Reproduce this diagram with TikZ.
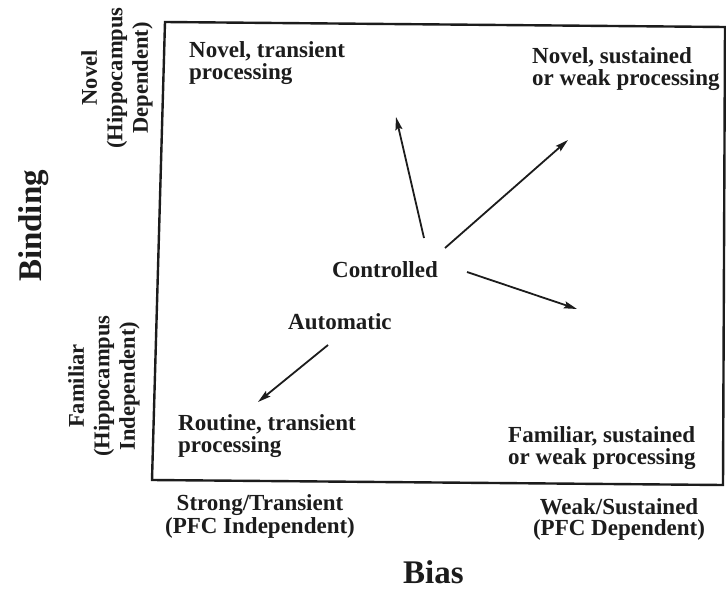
\documentclass[tikz,border=0pt]{standalone}
\usepackage{fontspec}
\setmainfont{Liberation Serif}
\usetikzlibrary{arrows.meta}
\definecolor{ink}{RGB}{28,28,28}
\begin{document}
\begin{tikzpicture}[x=1pt,y=-1pt,
  lbl/.style={inner sep=0pt, text=ink, font=\bfseries\fontsize{23}{22}\selectfont, align=left},
  axl/.style={inner sep=0pt, text=ink, font=\bfseries\fontsize{23}{21}\selectfont, align=center},
  side/.style={inner sep=0pt, text=ink, font=\bfseries\fontsize{22.5}{25.5}\selectfont, align=center, rotate=90},
  big/.style={inner sep=0pt, text=ink, font=\bfseries\fontsize{33}{36}\selectfont},
  arr/.style={draw=ink, line width=1.8pt, -{Stealth[length=13pt,width=7pt,inset=2pt]}},
  frame/.style={draw=ink, line width=2.4pt, line join=miter}]
\useasboundingbox (0,0) rectangle (726,589);
\fill[white] (0,0) rectangle (726,589);

% frame
\coordinate (tl) at (165,22);
\coordinate (tr) at (725,27);
\coordinate (br) at (723,485);
\coordinate (bl) at (152,480);
\draw[frame] (tl) -- (tr) -- (br) -- (bl) -- cycle;

% quadrant labels (base anchor = baseline of last line)
\node[lbl, anchor=base west] (nt) at (189,79) {Novel, transient\\processing};
\node[lbl, anchor=base west] (ns) at (532,85) {Novel, sustained\\or weak processing};
\node[lbl, anchor=base west] (rt) at (178,452) {Routine, transient\\processing};
\node[lbl, anchor=base west] (fs) at (508,464) {Familiar, sustained\\or weak processing};

% centre labels
\node[lbl, anchor=base west] (ctrl) at (332,277) {Controlled};
\node[lbl, anchor=base west] (auto) at (288,329) {Automatic};

% arrows
\coordinate (c1s) at (424,238); \coordinate (c1e) at (396,117);
\coordinate (c2s) at (445,248); \coordinate (c2e) at (568,140);
\coordinate (c3s) at (467,272); \coordinate (c3e) at (577,309);
\coordinate (a1s) at (328,345); \coordinate (a1e) at (258,402);
\draw[arr] (c1s) -- (c1e);
\draw[arr] (c2s) -- (c2e);
\draw[arr] (c3s) -- (c3e);
\draw[arr] (a1s) -- (a1e);

% axis tick labels
\node[axl, anchor=base] (st) at (260,533) {Strong/Transient\\(PFC Independent)};
\node[axl, anchor=base] (ws) at (619,535) {Weak/Sustained\\(PFC Dependent)};
\node[side] (nov) at (117,78) {Novel\\(Hippocampus\\Dependent)};
\node[side] (fam) at (104,386) {Familiar\\(Hippocampus\\Independent)};

% axis titles
\node[big, anchor=base west] (bias) at (403,583) {Bias};
\node[big, rotate=90] (bind) at (34,226) {Binding};
\end{tikzpicture}
\end{document}
